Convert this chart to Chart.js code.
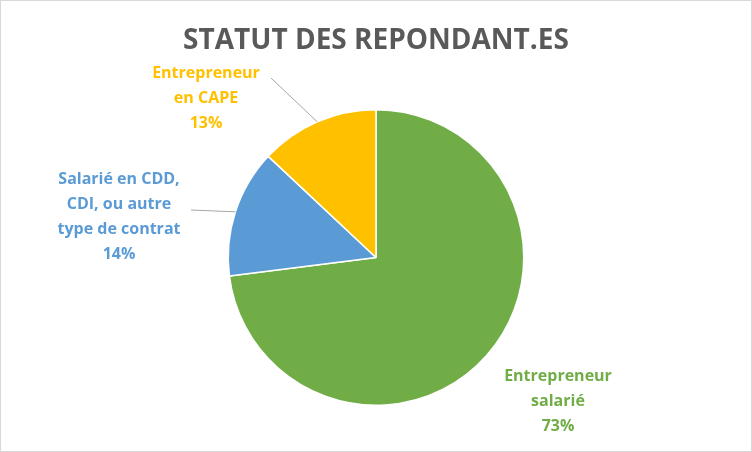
<!DOCTYPE html>
<html>
<head>
<meta charset="utf-8">
<script src="https://cdn.jsdelivr.net/npm/chart.js@4"></script>
<style>
  html, body { margin: 0; padding: 0; background: #fff; }
  #wrap { width: 750px; height: 450px; border: 1px solid #d9d9d9; }
</style>
</head>
<body>
<div id="wrap"><canvas id="pie"></canvas></div>
<script>
const labels = ['Entrepreneur salarié', 'Salarié en CDD, CDI, ou autre type de contrat', 'Entrepreneur en CAPE'];
const values = [73, 14, 13];
const colors = ['#70AD47', '#5B9BD5', '#FFC000'];
// label text lines and where they sit
const labelLines = [
    ['Entrepreneur', 'salarié', '73%'],
    ['Salarié en CDD,', 'CDI, ou autre', 'type de contrat', '14%'],
    ['Entrepreneur', 'en CAPE', '13%']
];
const labelPos = [[557, 375], [118, 178], [205, 72]];
const leaderEnd = [null, [190, 209], [270, 77]];

const decorations = {
    id: 'decorations',
    afterDraw(chart) {
        const ctx = chart.ctx;
        ctx.save();
        ctx.fillStyle = '#595959';
        ctx.font = 'bold 28px "Open Sans", sans-serif';
        ctx.textAlign = 'center';
        ctx.textBaseline = 'middle';
        ctx.fillText('STATUT DES REPONDANT.ES', 375, 40);

        const arcs = chart.getDatasetMeta(0).data;
        arcs.forEach((arc, i) => {
            if (leaderEnd[i]) {
                const mid = (arc.startAngle + arc.endAngle) / 2;
                const x = arc.x + Math.cos(mid) * arc.outerRadius;
                const y = arc.y + Math.sin(mid) * arc.outerRadius;
                ctx.strokeStyle = '#a6a6a6';
                ctx.lineWidth = 1;
                ctx.beginPath();
                ctx.moveTo(leaderEnd[i][0], leaderEnd[i][1]);
                ctx.lineTo(x, y);
                ctx.stroke();
            }
            ctx.fillStyle = colors[i];
            ctx.font = 'bold 16px "Open Sans", sans-serif';
            labelLines[i].forEach((t, j) => {
                ctx.fillText(t, labelPos[i][0], labelPos[i][1] + j * 25);
            });
        });
        ctx.restore();
    }
};

new Chart(document.getElementById('pie'), {
    type: 'pie',
    data: {
        labels: labels,
        datasets: [{
            data: values,
            backgroundColor: colors,
            borderColor: '#fff',
            borderWidth: 1.5
        }]
    },
    options: {
        responsive: true,
        maintainAspectRatio: false,
        animation: false,
        layout: { padding: { top: 108, bottom: 45 } },
        plugins: {
            legend: { display: false },
            tooltip: { enabled: false }
        }
    },
    plugins: [decorations]
});
</script>
</body>
</html>
